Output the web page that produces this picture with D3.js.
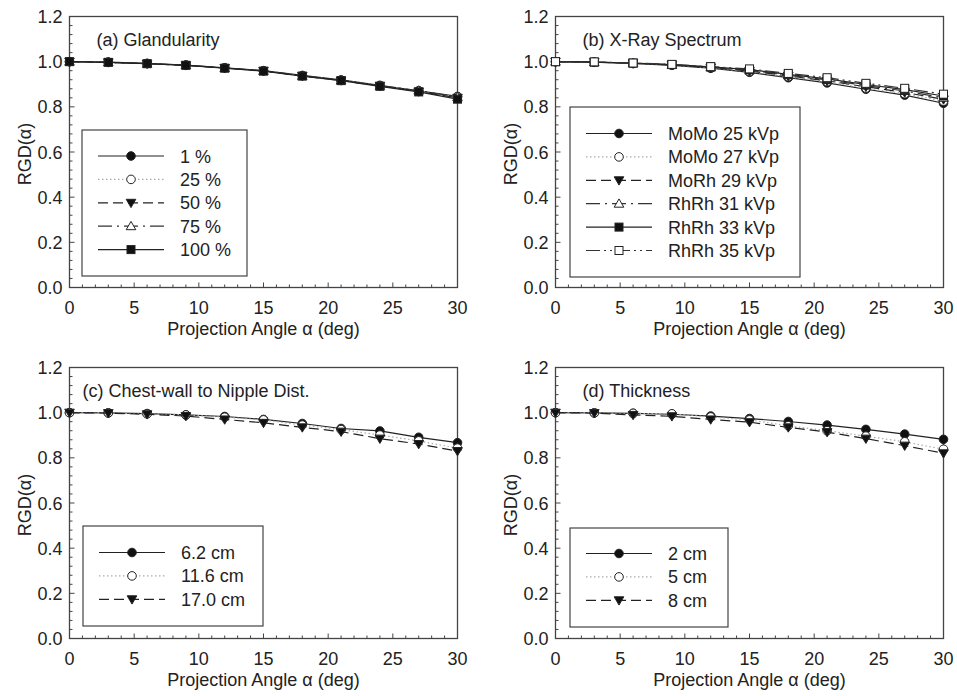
<!DOCTYPE html>
<html>
<head>
<meta charset="utf-8">
<script src="https://cdn.jsdelivr.net/npm/d3@7"></script>
<style>
  body { margin: 0; background: white; }
  svg text { font-family: "Liberation Sans", Arial, sans-serif; fill: #222; }
</style>
</head>
<body>
<div id="chart"></div>
<script>
var width = 957;
var height = 696;

// projection angles (deg)
var angles = [0, 3, 6, 9, 12, 15, 18, 21, 24, 27, 30];

// (a) glandularity
var glandLabels = ["1 %", "25 %", "50 %", "75 %", "100 %"];
var gland1   = [1.000, 0.998, 0.992, 0.985, 0.973, 0.960, 0.939, 0.919, 0.895, 0.871, 0.846];
var gland25  = [1.000, 0.998, 0.992, 0.985, 0.973, 0.960, 0.938, 0.918, 0.894, 0.870, 0.844];
var gland50  = [1.000, 0.997, 0.991, 0.984, 0.972, 0.959, 0.937, 0.917, 0.893, 0.868, 0.840];
var gland75  = [1.000, 0.997, 0.991, 0.984, 0.972, 0.959, 0.937, 0.917, 0.893, 0.872, 0.843];
var gland100 = [1.000, 0.997, 0.991, 0.984, 0.971, 0.958, 0.936, 0.916, 0.891, 0.866, 0.834];

// (b) x-ray spectrum
var specLabels = ["MoMo 25 kVp", "MoMo 27 kVp", "MoRh 29 kVp", "RhRh 31 kVp", "RhRh 33 kVp", "RhRh 35 kVp"];
var momo25 = [1.000, 0.998, 0.992, 0.984, 0.971, 0.953, 0.929, 0.906, 0.878, 0.852, 0.816];
var momo27 = [1.000, 0.998, 0.992, 0.985, 0.973, 0.956, 0.933, 0.911, 0.883, 0.858, 0.825];
var morh29 = [1.000, 0.998, 0.993, 0.986, 0.974, 0.959, 0.937, 0.915, 0.889, 0.864, 0.833];
var rhrh31 = [1.000, 0.998, 0.993, 0.986, 0.975, 0.962, 0.940, 0.919, 0.894, 0.870, 0.840];
var rhrh33 = [1.000, 0.998, 0.994, 0.987, 0.977, 0.965, 0.944, 0.924, 0.899, 0.876, 0.848];
var rhrh35 = [1.000, 0.999, 0.994, 0.988, 0.978, 0.968, 0.948, 0.929, 0.904, 0.882, 0.856];

// (c) chest-wall to nipple distance
var cnLabels = ["6.2 cm", "11.6 cm", "17.0 cm"];
var cn62  = [1.000, 0.999, 0.996, 0.990, 0.983, 0.970, 0.952, 0.930, 0.919, 0.891, 0.867];
var cn116 = [1.000, 0.999, 0.995, 0.990, 0.980, 0.968, 0.945, 0.925, 0.901, 0.875, 0.843];
var cn170 = [1.000, 0.998, 0.993, 0.985, 0.970, 0.955, 0.935, 0.916, 0.885, 0.861, 0.830];

// (d) thickness
var thickLabels = ["2 cm", "5 cm", "8 cm"];
var thick2 = [1.000, 0.999, 0.997, 0.993, 0.985, 0.974, 0.961, 0.945, 0.926, 0.905, 0.882];
var thick5 = [1.000, 0.999, 0.997, 0.995, 0.981, 0.968, 0.942, 0.920, 0.896, 0.871, 0.838];
var thick8 = [1.000, 0.998, 0.990, 0.984, 0.970, 0.958, 0.935, 0.914, 0.885, 0.854, 0.820];

var xTicks = [0, 5, 10, 15, 20, 25, 30];
var yTicks = [0.0, 0.2, 0.4, 0.6, 0.8, 1.0, 1.2];

// line/marker styles, in the order used by every panel
var styles = [
  { dash: null,          color: "#222", marker: "circle",   fill: "#111" },
  { dash: "1.5,2.5",     color: "#aaa", marker: "circle",   fill: "white" },
  { dash: "10,5",        color: "#222", marker: "triDown",  fill: "#111" },
  { dash: "14,5,2,5",    color: "#333", marker: "triUp",    fill: "white" },
  { dash: null,          color: "#222", marker: "square",   fill: "#111" },
  { dash: "14,4,2,4,2,4",color: "#333", marker: "square",   fill: "white" }
];

var panels = [
  { title: "(a) Glandularity", left: 69.5, right: 457.5, top: 16.5, bottom: 287.5,
    series: [gland1, gland25, gland50, gland75, gland100], labels: glandLabels,
    legend: { x: 82, y: 130, w: 165, h: 146, row0: 156 } },
  { title: "(b) X-Ray Spectrum", left: 555.5, right: 943.5, top: 16.5, bottom: 287.5,
    series: [momo25, momo27, morh29, rhrh31, rhrh33, rhrh35], labels: specLabels,
    legend: { x: 570, y: 107, w: 230, h: 170, row0: 133.5 } },
  { title: "(c) Chest-wall to Nipple Dist.", left: 69.5, right: 457.5, top: 367.5, bottom: 638.5,
    series: [cn62, cn116, cn170], labels: cnLabels,
    legend: { x: 83, y: 526, w: 180, h: 100, row0: 552.5 } },
  { title: "(d) Thickness", left: 555.5, right: 943.5, top: 367.5, bottom: 638.5,
    series: [thick2, thick5, thick8], labels: thickLabels,
    legend: { x: 570, y: 528, w: 158, h: 99, row0: 553.5 } }
];

var svg = d3.select("#chart").append("svg")
  .attr("width", width)
  .attr("height", height);

svg.append("rect").attr("width", width).attr("height", height).attr("fill", "white");

function drawMarker(g, type, cx, cy, fill) {
  var m;
  if (type === "circle") {
    m = g.append("circle").attr("cx", cx).attr("cy", cy).attr("r", 4.3);
  } else if (type === "square") {
    m = g.append("rect").attr("x", cx - 4).attr("y", cy - 4).attr("width", 8).attr("height", 8);
  } else if (type === "triDown") {
    m = g.append("path").attr("d", "M" + (cx - 4.8) + "," + (cy - 3.5) + "L" + (cx + 4.8) + "," + (cy - 3.5) + "L" + cx + "," + (cy + 4.8) + "Z");
  } else {
    m = g.append("path").attr("d", "M" + (cx - 4.8) + "," + (cy + 3.5) + "L" + (cx + 4.8) + "," + (cy + 3.5) + "L" + cx + "," + (cy - 4.8) + "Z");
  }
  m.attr("fill", fill).attr("stroke", "#222").attr("stroke-width", 1);
}

panels.forEach(function(p) {
  var x = d3.scaleLinear().domain([0, 30]).range([p.left, p.right]);
  var y = d3.scaleLinear().domain([0, 1.2]).range([p.bottom, p.top]);
  var g = svg.append("g");

  // frame
  g.append("rect")
    .attr("x", p.left).attr("y", p.top)
    .attr("width", p.right - p.left).attr("height", p.bottom - p.top)
    .attr("fill", "none").attr("stroke", "#444").attr("stroke-width", 1.3);

  // inward ticks, minor + major
  var xMinor = d3.range(0, 31, 1);
  g.selectAll(".xminor").data(xMinor).enter().append("line")
    .attr("x1", function(d) { return x(d); }).attr("x2", function(d) { return x(d); })
    .attr("y1", p.bottom).attr("y2", function(d) { return d % 5 === 0 ? p.bottom - 5 : p.bottom - 3; })
    .attr("stroke", "#444").attr("stroke-width", 1);
  var yMinor = d3.range(0, 31, 1).map(function(i) { return i * 0.04; });
  g.selectAll(".yminor").data(yMinor).enter().append("line")
    .attr("y1", function(d) { return y(d); }).attr("y2", function(d) { return y(d); })
    .attr("x1", p.left).attr("x2", function(d, i) { return i % 5 === 0 ? p.left + 5 : p.left + 3; })
    .attr("stroke", "#444").attr("stroke-width", 1);

  // tick labels
  g.selectAll(".xlab").data(xTicks).enter().append("text")
    .attr("x", function(d) { return x(d); })
    .attr("y", p.bottom + 26)
    .attr("text-anchor", "middle")
    .style("font-size", "18px")
    .text(function(d) { return d; });
  g.selectAll(".ylab").data(yTicks).enter().append("text")
    .attr("x", p.left - 7)
    .attr("y", function(d) { return y(d) + 6.5; })
    .attr("text-anchor", "end")
    .style("font-size", "18px")
    .text(function(d) { return d.toFixed(1); });

  // axis titles
  g.append("text")
    .attr("x", (p.left + p.right) / 2)
    .attr("y", p.bottom + 47)
    .attr("text-anchor", "middle")
    .style("font-size", "18px")
    .text("Projection Angle α (deg)");
  g.append("text")
    .attr("transform", "translate(" + (p.left - 39) + "," + ((p.top + p.bottom) / 2 + 2) + ") rotate(-90)")
    .attr("text-anchor", "middle")
    .style("font-size", "18px")
    .text("RGD(α)");

  // panel title
  g.append("text")
    .attr("x", p.left + (p.title.indexOf("(c)") === 0 ? 13 : 27))
    .attr("y", p.top + 29)
    .style("font-size", "18px")
    .text(p.title);

  // series
  var line = d3.line()
    .x(function(d, i) { return x(angles[i]); })
    .y(function(d) { return y(d); });

  p.series.forEach(function(vals, si) {
    var st = styles[si];
    g.append("path")
      .attr("d", line(vals))
      .attr("fill", "none")
      .attr("stroke", st.color)
      .attr("stroke-width", 1.2)
      .attr("stroke-dasharray", st.dash);
    vals.forEach(function(v, i) {
      drawMarker(g, st.marker, x(angles[i]), y(v), st.fill);
    });
  });

  // legend
  var L = p.legend;
  g.append("rect")
    .attr("x", L.x).attr("y", L.y).attr("width", L.w).attr("height", L.h)
    .attr("fill", "white").attr("stroke", "#444").attr("stroke-width", 1.2);
  p.labels.forEach(function(lab, si) {
    var st = styles[si];
    var ry = L.row0 + si * 23.4;
    var lx0 = L.x + 16, lx1 = L.x + 82;
    g.append("line")
      .attr("x1", lx0).attr("x2", lx1).attr("y1", ry).attr("y2", ry)
      .attr("stroke", st.color).attr("stroke-width", 1.2)
      .attr("stroke-dasharray", st.dash);
    drawMarker(g, st.marker, (lx0 + lx1) / 2, ry, st.fill);
    g.append("text")
      .attr("x", L.x + 98)
      .attr("y", ry + 6.5)
      .style("font-size", "18px")
      .text(lab);
  });
});
</script>
</body>
</html>
